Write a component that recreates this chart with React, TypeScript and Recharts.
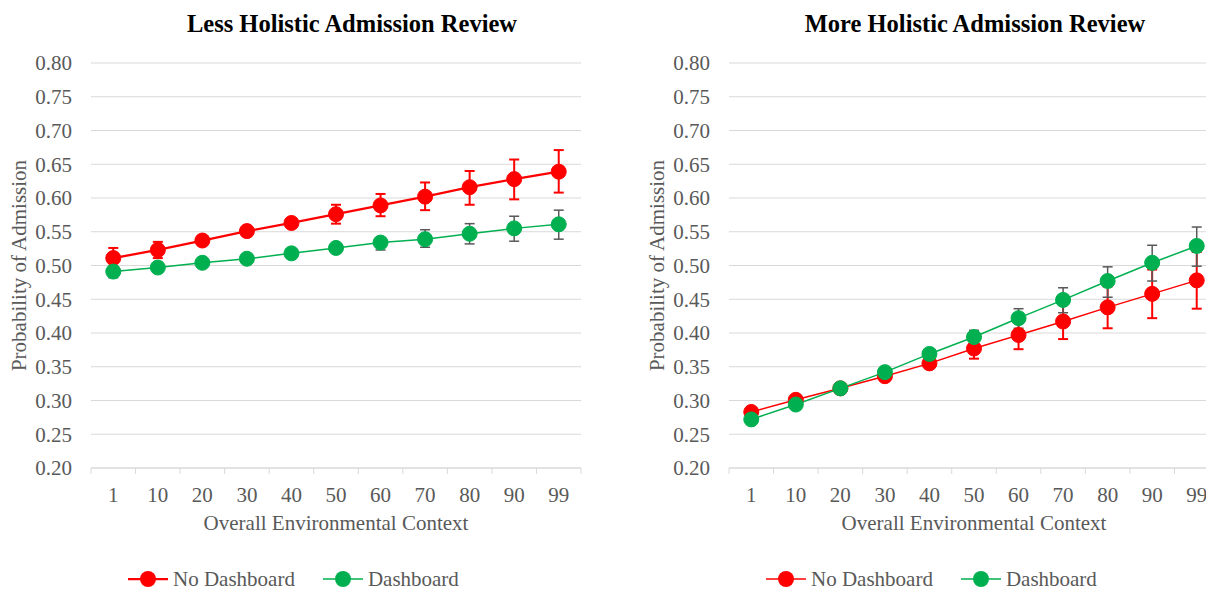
import React from 'react';
import { LineChart, Line, XAxis, YAxis, CartesianGrid, ErrorBar, Legend } from 'recharts';

const categories = ['1', '10', '20', '30', '40', '50', '60', '70', '80', '90', '99'];
const yTicks = [0.2, 0.25, 0.3, 0.35, 0.4, 0.45, 0.5, 0.55, 0.6, 0.65, 0.7, 0.75, 0.8];
const seriesNames = ['No Dashboard', 'Dashboard'];

// Less holistic review
const lessNoDash = [0.511, 0.523, 0.537, 0.551, 0.563, 0.576, 0.589, 0.602, 0.616, 0.628, 0.639];
const lessNoDashLo = [0.497, 0.511, 0.532, 0.546, 0.557, 0.562, 0.573, 0.582, 0.59, 0.598, 0.608];
const lessNoDashHi = [0.526, 0.535, 0.542, 0.555, 0.569, 0.59, 0.606, 0.623, 0.64, 0.657, 0.671];
const lessDash = [0.491, 0.497, 0.504, 0.51, 0.518, 0.526, 0.534, 0.539, 0.547, 0.555, 0.561];
const lessDashLo = [0.482, 0.49, 0.499, 0.506, 0.514, 0.52, 0.523, 0.527, 0.532, 0.536, 0.539];
const lessDashHi = [0.499, 0.503, 0.509, 0.514, 0.522, 0.531, 0.541, 0.553, 0.562, 0.573, 0.582];

// More holistic review
const moreNoDash = [0.283, 0.301, 0.318, 0.336, 0.355, 0.377, 0.397, 0.417, 0.438, 0.458, 0.478];
const moreNoDashLo = [0.277, 0.296, 0.315, 0.333, 0.349, 0.362, 0.376, 0.391, 0.407, 0.422, 0.436];
const moreNoDashHi = [0.289, 0.306, 0.321, 0.339, 0.361, 0.392, 0.418, 0.443, 0.469, 0.494, 0.52];
const moreDash = [0.272, 0.294, 0.318, 0.342, 0.369, 0.394, 0.422, 0.449, 0.477, 0.504, 0.529];
const moreDashLo = [0.268, 0.29, 0.315, 0.339, 0.365, 0.385, 0.407, 0.43, 0.453, 0.477, 0.499];
const moreDashHi = [0.276, 0.298, 0.321, 0.345, 0.373, 0.404, 0.436, 0.467, 0.498, 0.53, 0.557];

const RED = '#FF0000';
const GREEN = '#00B050';
const GREY = '#595959';
const GRID = '#D9D9D9';
const FONT = '"Liberation Serif", "Times New Roman", serif';

const PLOT_W = 490;
const BAND = PLOT_W / categories.length;

const build = (a: number[], aLo: number[], aHi: number[], b: number[], bLo: number[], bHi: number[]) =>
  categories.map((c, i) => ({
    ctx: c,
    noDash: a[i],
    noDashErr: [a[i] - aLo[i], aHi[i] - a[i]],
    dash: b[i],
    dashErr: [b[i] - bLo[i], bHi[i] - b[i]],
  }));

const lessData = build(lessNoDash, lessNoDashLo, lessNoDashHi, lessDash, lessDashLo, lessDashHi);
const moreData = build(moreNoDash, moreNoDashLo, moreNoDashHi, moreDash, moreDashLo, moreDashHi);

// category label centred in its band, tick marks on the band edges
const XTick = (props: any) => {
  const { x, y, payload, index } = props;
  const left = x - BAND / 2;
  return (
    <g>
      <line x1={left} y1={y} x2={left} y2={y + 6} stroke={GRID} />
      {index === categories.length - 1 && (
        <line x1={x + BAND / 2} y1={y} x2={x + BAND / 2} y2={y + 6} stroke={GRID} />
      )}
      <text x={x} y={y + 34} textAnchor="middle" fill={GREY} fontSize={21} fontFamily={FONT}>
        {payload.value}
      </text>
    </g>
  );
};

const LegendContent = ({ widths }: { widths: Record<string, number> }) => (props: any) => {
  const items = [...(props.payload || [])].sort(
    (a: any, b: any) => seriesNames.indexOf(a.value) - seriesNames.indexOf(b.value)
  );
  return (
    <div style={{ display: 'flex', alignItems: 'center', fontFamily: FONT, fontSize: 21, color: GREY, whiteSpace: 'nowrap' }}>
      {items.map((entry: any, i: number) => (
        <div key={entry.value} style={{ display: 'flex', alignItems: 'center', marginLeft: i ? 28 : 0 }}>
          <svg width={40} height={20} style={{ marginRight: 5 }}>
            <line x1={0} y1={10} x2={40} y2={10} stroke={entry.color} strokeWidth={widths[entry.value]} />
            <circle cx={20} cy={10} r={8} fill={entry.color} />
          </svg>
          <span style={{ lineHeight: '24px' }}>{entry.value}</span>
        </div>
      ))}
    </div>
  );
};

type PanelProps = {
  data: any[];
  left: number;
  width: number;
  title: string;
  titleX: number;
  redWidth: number;
  greenWidth: number;
};

const Panel = ({ data, left, width, title, titleX, redWidth, greenWidth }: PanelProps) => (
  <>
    <div
      style={{
        position: 'absolute',
        left: titleX - 250,
        width: 500,
        top: 10,
        lineHeight: '28px',
        textAlign: 'center',
        fontFamily: FONT,
        fontWeight: 'bold',
        fontSize: 24.5,
        color: '#000',
      }}
    >
      {title}
    </div>
    <div style={{ position: 'absolute', left, top: 0 }}>
      <LineChart
        width={width}
        height={590}
        data={data}
        margin={{ top: 63, right: width - 91 - PLOT_W, bottom: 52, left: 0 }}
      >
        <CartesianGrid vertical={false} stroke={GRID} strokeWidth={1.2} />
        <XAxis
          dataKey="ctx"
          height={70}
          axisLine={{ stroke: GRID, strokeWidth: 1.2 }}
          tickLine={false}
          tickSize={0}
          tickMargin={0}
          interval={0}
          padding={{ left: BAND / 2, right: BAND / 2 }}
          tick={<XTick />}
          label={{
            value: 'Overall Environmental Context',
            position: 'insideBottom',
            offset: 8,
            fill: GREY,
            fontSize: 21,
            fontFamily: FONT,
          }}
        />
        <YAxis
          width={91}
          domain={[0.2, 0.8]}
          ticks={yTicks}
          interval={0}
          axisLine={false}
          tickLine={false}
          tickMargin={13}
          tickFormatter={(v: number) => v.toFixed(2)}
          tick={{ fill: GREY, fontSize: 21, fontFamily: FONT }}
          label={{
            value: 'Probability of Admission',
            angle: -90,
            position: 'insideLeft',
            offset: 19,
            fill: GREY,
            fontSize: 21,
            fontFamily: FONT,
            style: { textAnchor: 'middle' },
          }}
        />
        <Legend
          layout="horizontal"
          verticalAlign="middle"
          align="center"
          wrapperStyle={{ top: 567, left: 128, width: 'auto', height: 24 }}
          content={LegendContent({ widths: { 'No Dashboard': redWidth, Dashboard: greenWidth } })}
        />
        <Line
          name="No Dashboard"
          dataKey="noDash"
          stroke={RED}
          strokeWidth={redWidth}
          dot={{ r: 7.5, fill: RED, stroke: RED, strokeWidth: 1 }}
          activeDot={false}
          isAnimationActive={false}
        >
          <ErrorBar dataKey="noDashErr" width={5} stroke={RED} strokeWidth={2} direction="y" />
        </Line>
        <Line
          name="Dashboard"
          dataKey="dash"
          stroke={GREEN}
          strokeWidth={greenWidth}
          dot={{ r: 7.5, fill: GREEN, stroke: GREEN, strokeWidth: 1 }}
          activeDot={false}
          isAnimationActive={false}
        >
          <ErrorBar dataKey="dashErr" width={5} stroke={GREY} strokeWidth={1.5} direction="y" />
        </Line>
      </LineChart>
    </div>
  </>
);

export default function App() {
  return (
    <div
      style={{
        position: 'absolute',
        left: 0,
        top: 0,
        width: 1206,
        height: 590,
        overflow: 'hidden',
        background: '#fff',
      }}
    >
      <Panel
        data={lessData}
        left={0}
        width={600}
        title="Less Holistic Admission Review"
        titleX={352}
        redWidth={2.25}
        greenWidth={1.5}
      />
      <Panel
        data={moreData}
        left={638}
        width={591}
        title="More Holistic Admission Review"
        titleX={975}
        redWidth={1.5}
        greenWidth={1.5}
      />
    </div>
  );
}
